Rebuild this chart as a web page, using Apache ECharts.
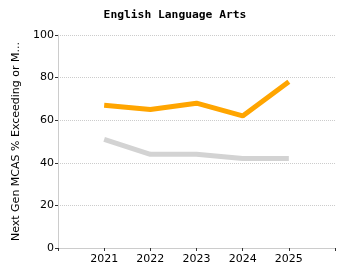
<!DOCTYPE html>
<html>
<head>
<meta charset="utf-8">
<script src="https://cdn.jsdelivr.net/npm/echarts@6/dist/echarts.min.js"></script>
<style>
  html, body { margin: 0; padding: 0; background: #fff; }
  #main { width: 350px; height: 280px; }
</style>
</head>
<body>
<div id="main"></div>
<script>
// years, padded with blanks at both ends like the original axis
var years = ['', '2021', '2022', '2023', '2024', '2025', ''];
var schoolVals = [null, 67, 65, 68, 62, 78, null];
var stateVals = [null, 51, 44, 44, 42, 42, null];
var yTicks = [0, 20, 40, 60, 80, 100];

var chart = echarts.init(document.getElementById('main'));

var option = {
  animation: false,
  textStyle: { fontFamily: 'DejaVu Sans' },
  title: {
    text: 'English Language Arts',
    left: 'center',
    top: 5,
    textStyle: { fontSize: 11.3, fontWeight: 'bold', color: '#000', fontFamily: 'DejaVu Sans Mono' }
  },
  grid: { left: 58, right: 15, top: 35, bottom: 32 },
  xAxis: {
    type: 'category',
    data: years,
    boundaryGap: false,
    axisLine: { lineStyle: { color: '#ccc' } },
    axisTick: { show: true, length: 3, lineStyle: { color: '#333' } },
    axisLabel: { color: '#000', fontSize: 11, margin: 6 },
    splitLine: { show: false }
  },
  yAxis: {
    type: 'value',
    min: yTicks[0],
    max: yTicks[yTicks.length - 1],
    interval: 20,
    name: 'Next Gen MCAS % Exceeding or Meeting Expectations',
    nameLocation: 'middle',
    nameGap: 30,
    nameRotate: 90,
    nameTruncate: { maxWidth: 205, ellipsis: '...' },
    nameTextStyle: { color: '#000', fontSize: 11 },
    axisLine: { show: true, lineStyle: { color: '#ccc' } },
    axisTick: { show: true, length: 3, lineStyle: { color: '#333' } },
    axisLabel: { color: '#000', fontSize: 11, margin: 4 },
    splitLine: { show: true, lineStyle: { color: '#ccc', type: 'dotted' } }
  },
  series: [
    {
      name: 'State',
      type: 'line',
      data: stateVals,
      symbol: 'none',
      lineStyle: { color: '#d3d3d3', width: 5 },
      z: 2
    },
    {
      name: 'School',
      type: 'line',
      data: schoolVals,
      symbol: 'none',
      lineStyle: { color: '#ffa500', width: 5 },
      z: 3
    }
  ]
};

chart.setOption(option);
</script>
</body>
</html>
